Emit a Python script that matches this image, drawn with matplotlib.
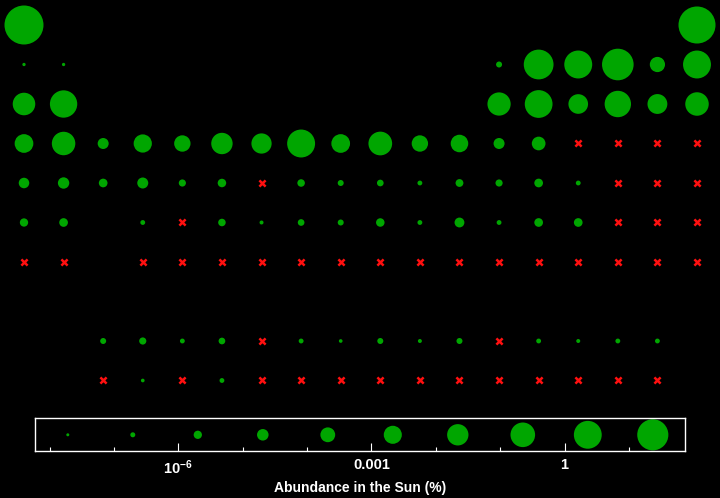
import numpy as np
import matplotlib
matplotlib.use("Agg")
import matplotlib.pyplot as plt
from matplotlib.ticker import FixedLocator, NullFormatter

plt.rcParams['font.family'] = ['Liberation Sans', 'DejaVu Sans']
plt.rcParams['mathtext.fontset'] = 'custom'
plt.rcParams['mathtext.rm'] = 'Liberation Sans'
plt.rcParams['mathtext.bf'] = 'Liberation Sans:bold'

nan = np.nan

# element symbols in table order (lanthanides / actinides at the end)
symbols = ["H", "He",
           "Li", "Be", "B", "C", "N", "O", "F", "Ne",
           "Na", "Mg", "Al", "Si", "P", "S", "Cl", "Ar",
           "K", "Ca", "Sc", "Ti", "V", "Cr", "Mn", "Fe", "Co", "Ni", "Cu", "Zn", "Ga", "Ge", "As", "Se", "Br", "Kr",
           "Rb", "Sr", "Y", "Zr", "Nb", "Mo", "Tc", "Ru", "Rh", "Pd", "Ag", "Cd", "In", "Sn", "Sb", "Te", "I", "Xe",
           "Cs", "Ba", "Hf", "Ta", "W", "Re", "Os", "Ir", "Pt", "Au", "Hg", "Tl", "Pb", "Bi", "Po", "At", "Rn",
           "Fr", "Ra", "Rf", "Db", "Sg", "Bh", "Hs", "Mt", "Ds", "Rg", "Cn", "Nh", "Fl", "Mc", "Lv", "Ts", "Og",
           "La", "Ce", "Pr", "Nd", "Pm", "Sm", "Eu", "Gd", "Tb", "Dy", "Ho", "Er", "Tm", "Yb", "Lu",
           "Ac", "Th", "Pa", "U", "Np", "Pu", "Am", "Cm", "Bk", "Cf", "Es", "Fm", "Md", "No", "Lr"]

# abundance in the sun (%), nan = no data
abundance = [75, 23,
             6e-9, 1e-8, 2e-7, 0.3, 0.1, 0.9, 5e-5, 0.1,
             4e-3, 0.07, 6e-3, 0.09, 7e-4, 0.04, 8e-4, 7e-3,
             4e-4, 7e-3, 4e-6, 3e-4, 1e-4, 2e-3, 1e-3, 0.1, 4e-4, 8e-3, 1e-4, 2e-4, 4e-6, 2e-5, nan, nan, nan, nan,
             3e-6, 5e-6, 1e-6, 4e-6, 4e-7, 9e-7, nan, 5e-7, 2e-7, 3e-7, 1e-7, 6e-7, 4e-7, 1e-6, 1e-7, nan, nan, nan,
             8e-7, 1e-6, 1e-7, nan, 5e-7, 6e-8, 3e-7, 2e-7, 9e-7, 1e-7, 2e-6, 1e-7, 1e-6, 1e-6, nan, nan, nan,
             nan, nan, nan, nan, nan, nan, nan, nan, nan, nan, nan, nan, nan, nan, nan, nan, nan,
             2e-7, 4e-7, 1e-7, 3e-7, nan, 1e-7, 5e-8, 2e-7, 6e-8, 2e-7, nan, 1e-7, 6e-8, 1e-7, 1e-7,
             nan, 5e-8, nan, 1e-7, nan, nan, nan, nan, nan, nan, nan, nan, nan, nan, nan]

# which groups each table row holds (row 8 is the gap before the f-block)
row_groups = {
    1: [1, 18],
    2: [1, 2] + list(range(13, 19)),
    3: [1, 2] + list(range(13, 19)),
    4: list(range(1, 19)),
    5: list(range(1, 19)),
    6: [1, 2] + list(range(4, 19)),
    7: [1, 2] + list(range(4, 19)),
    9: list(range(3, 18)),
    10: list(range(3, 18)),
}

group, period = [], []
for r, gs in row_groups.items():
    for g in gs:
        group.append(g)
        period.append(r)
group = np.array(group)
period = np.array(period)
values = np.array(abundance, dtype=float)

vmin, vmax = np.nanmin(values), np.nanmax(values)

GREEN = '#00a600'
RED = '#ff1010'


def diam_px(v):
    # bubble diameter in pixels, linear in log abundance
    d = 39 - 3.85 * (np.log10(vmax) - np.log10(v))
    return np.maximum(d, 3.3)


def to_s(d):
    return (d * 0.72) ** 2


fig = plt.figure(figsize=(7.2, 4.98), dpi=100, facecolor='black')

ax = fig.add_axes([4.2 / 720, 1 - 400.25 / 498, 712.6 / 720, 395 / 498])
ax.set_facecolor('black')
ax.set_xlim(0.5, 18.5)
ax.set_ylim(10.5, 0.5)
ax.axis('off')

ok = ~np.isnan(values)
ax.scatter(group[ok], period[ok], s=to_s(diam_px(values[ok])), color=GREEN, linewidths=0)
ax.scatter(group[~ok], period[~ok], s=20, marker='x', color=RED, linewidths=1.8)

# size legend on a log axis
lax = fig.add_axes([35.3 / 720, 1 - 451.3 / 498, 650 / 720, 33 / 498])
lax.set_facecolor('black')
lax.set_xscale('log')
lax.set_xlim(vmin, vmax)
lax.set_ylim(-1, 1)

edges = np.logspace(np.log10(vmin), np.log10(vmax), 11)
centers = np.sqrt(edges[:-1] * edges[1:])
leg_d = np.maximum(0.84 * (39 - 3.85 * (np.log10(vmax) - np.log10(centers))), 3)
lax.scatter(centers, np.zeros_like(centers), s=to_s(leg_d), color=GREEN, linewidths=0)

for sp in lax.spines.values():
    sp.set_color('white')
    sp.set_linewidth(1.0)

lax.yaxis.set_visible(False)
lax.xaxis.set_major_locator(FixedLocator([1e-6, 1e-3, 1]))
lax.xaxis.set_minor_locator(FixedLocator([1e-8, 1e-7, 1e-5, 1e-4, 1e-2, 1e-1, 10]))
lax.xaxis.set_minor_formatter(NullFormatter())
lax.set_xticklabels([r'$\mathbf{10^{-6}}$', '0.001', '1'], fontweight='bold')
lax.tick_params(axis='x', which='major', direction='in', length=5.5, width=0.8,
                color='white', labelcolor='white', labelsize=10.5, pad=5)
lax.tick_params(axis='x', which='minor', direction='in', length=3, width=0.8, color='white')
lax.set_xlabel('Abundance in the Sun (%)', color='white', fontsize=10,
               fontweight='bold', labelpad=3)

fig.savefig('out.png', dpi=100, facecolor='black')
